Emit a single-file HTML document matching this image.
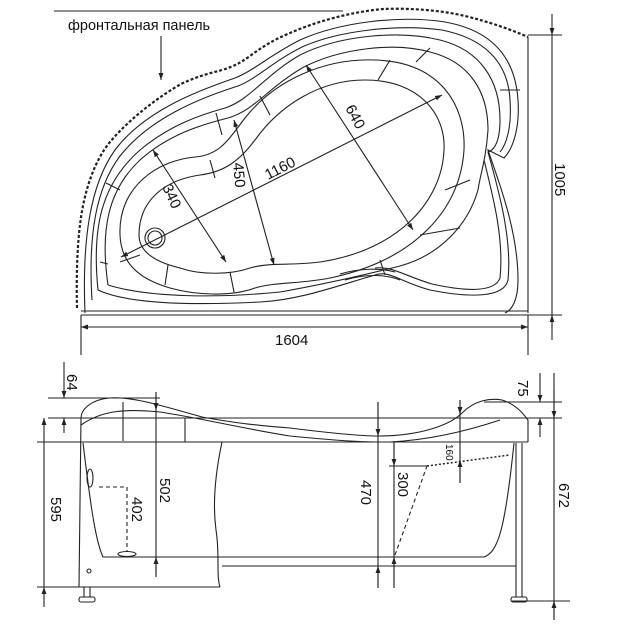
<!DOCTYPE html>
<html><head><meta charset="utf-8"><style>
html,body{margin:0;padding:0;background:#fff}
svg{display:block}
text{font-family:"Liberation Sans",sans-serif;fill:#111}
</style></head><body>
<svg width="627" height="625" viewBox="0 0 627 625" xmlns="http://www.w3.org/2000/svg">
<defs>
<marker id="a" viewBox="0 0 10 10" refX="10" refY="5" markerWidth="7" markerHeight="7" orient="auto-start-reverse" markerUnits="userSpaceOnUse"><path d="M0,1.5L10,5L0,8.5Z" fill="#222"/></marker>
</defs>
<g fill="none" stroke="#222" stroke-width="1.1">
<line x1="54" y1="11" x2="343" y2="11"/>
<path d="M77,308 C76,270 78,240 80,225 C84,190 95,160 110,142 C130,118 160,96 181,84 C200,75 215,72 222,70 C235,66 240,63 250,56 C262,47 275,39 290,33 C315,22 350,12 383,9 C410,8 440,10 465,16 C490,22 512,30 528,37" stroke-dasharray="3,2" stroke-width="2.2"/>
<line x1="528" y1="37" x2="528" y2="313"/>
<line x1="81" y1="311" x2="528" y2="311"/>
<line x1="81" y1="315" x2="528" y2="315"/>
<line x1="528" y1="35" x2="562" y2="35"/>
<line x1="528" y1="315" x2="562" y2="315"/>
<line x1="552" y1="14" x2="552" y2="35" marker-end="url(#a)"/>
<line x1="552" y1="340" x2="552" y2="315" marker-end="url(#a)"/>
<line x1="552" y1="35" x2="552" y2="315"/>
<line x1="81" y1="315" x2="81" y2="355"/>
<line x1="528" y1="315" x2="528" y2="355"/>
<line x1="81" y1="327" x2="528" y2="327" marker-start="url(#a)" marker-end="url(#a)"/>
<line x1="161" y1="36" x2="161" y2="80" marker-end="url(#a)"/>
<path d="M85,313 C82,240 90,185 115,150 C145,110 200,90 235,78 C255,70 270,55 300,40 C340,22 400,15 445,22 C490,30 515,55 518,100 C520,130 512,150 504,158 L488,150 C498,180 518,230 518,280 C518,300 512,310 505,313"/>
<path d="M92,300 C88,235 96,188 120,156 C150,118 200,98 238,86 C258,78 272,62 302,47 C340,30 400,24 442,30 C482,38 508,60 510,100 C512,128 506,145 500,152"/>
<path d="M98,290 C92,230 100,185 140,150 C170,125 200,115 225,108 C250,100 265,75 300,55 C340,35 400,30 440,40 C480,50 500,80 500,120 C500,140 495,150 488,152 C500,195 512,240 508,280 C504,298 470,298 430,290 C400,282 390,270 375,275 C340,285 300,300 260,302 C200,305 130,305 98,290 Z"/>
<path d="M484,160 C494,200 504,240 500,278 C495,292 468,292 432,284 C405,276 392,266 375,268"/>
<path d="M340,274 C360,268 380,268 395,272 M345,280 C365,274 385,274 400,280"/>
<path d="M108,285 C100,230 108,190 140,160 C168,135 200,125 228,118 C255,110 268,88 302,68 C340,48 395,42 430,52 C470,62 488,92 488,130 C486,160 480,175 478,190 C468,225 440,255 400,266 C360,276 320,285 280,292 C220,298 150,298 108,285"/>
<path d="M120,235 C118,185 160,160 195,157 C220,155 228,140 245,118 C275,80 325,58 375,60 C440,62 466,105 464,150 C460,210 415,260 330,278 C300,284 275,282 255,288 C230,297 195,295 170,288 C135,278 121,260 120,235 Z"/>
<path d="M139,235 C139,200 165,180 200,175 C225,172 240,160 255,140 C280,105 320,80 365,80 C420,80 446,115 444,150 C442,200 400,250 320,262 C290,266 270,262 250,268 C230,275 200,275 180,268 C155,262 139,252 139,235 Z"/>
<path d="M106,183 L120,190 M216,113 L222,135 M260,96 L270,115 M390,60 L378,80 M430,48 L416,62 M470,180 L445,190 M140,255 L120,262 M168,265 L165,285 M230,272 L234,292 M420,235 L460,228 M210,160 L215,178 M380,260 L385,275 M100,262 L108,264 M500,90 L520,90"/>
<circle cx="155" cy="238" r="10"/><circle cx="155" cy="238" r="7"/>
<line x1="121" y1="257" x2="442" y2="95" marker-start="url(#a)" marker-end="url(#a)"/>
<line x1="306" y1="65" x2="413" y2="230" marker-start="url(#a)" marker-end="url(#a)"/>
<line x1="234" y1="120" x2="274" y2="265" marker-start="url(#a)" marker-end="url(#a)"/>
<line x1="153" y1="150" x2="226" y2="262" marker-start="url(#a)" marker-end="url(#a)"/>

<line x1="48" y1="398" x2="160" y2="398"/>
<line x1="48" y1="418" x2="562" y2="418"/>
<line x1="37" y1="442" x2="528" y2="442"/>
<line x1="484" y1="402" x2="562" y2="402"/>
<line x1="64" y1="362" x2="64" y2="398" marker-end="url(#a)"/>
<line x1="64" y1="433" x2="64" y2="418" marker-end="url(#a)"/>
<line x1="44" y1="418" x2="44" y2="587" marker-start="url(#a)"/>
<line x1="44" y1="607" x2="44" y2="587" marker-end="url(#a)"/>
<line x1="37" y1="587" x2="80" y2="587"/>
<path d="M81,418 L79,587 L220,587"/>
<path d="M222,442 C216,470 212,500 216,530 C220,555 216,575 220,587"/>
<path d="M81,418 C81,410 90,400 109,398 C130,396 160,405 202,417 M202,417 C230,422 250,425 290,428 C330,433 360,436 378,436 C420,436 450,425 462,413 C475,400 490,398 502,400 C515,404 522,412 528,420 L528,442"/>
<path d="M81,425 C100,412 120,408 160,412 C200,418 240,428 290,436 C330,440 360,442 378,442 M390,442 C430,440 470,430 500,420"/>
<line x1="185" y1="418" x2="185" y2="442"/>
<line x1="123" y1="402" x2="123" y2="441"/>
<path d="M83,443 C90,500 95,540 103,557 L484,557 C498,552 505,530 514,443"/>
<line x1="222" y1="566" x2="516" y2="566"/>
<line x1="516" y1="443" x2="516" y2="597"/>
<line x1="522" y1="443" x2="522" y2="597"/>
<rect x="511" y="597" width="16" height="5" rx="2"/>
<rect x="79" y="597" width="16" height="5" rx="2"/>
<line x1="84" y1="587" x2="84" y2="597"/><line x1="90" y1="587" x2="90" y2="597"/>
<circle cx="89" cy="571" r="2"/>
<ellipse cx="90" cy="478" rx="3" ry="9"/>
<ellipse cx="127" cy="554" rx="9" ry="2.5"/>
<path d="M99,487 L127,487 L127,552" stroke-dasharray="4,3"/>
<line x1="156" y1="392" x2="156" y2="577"/>
<line x1="156" y1="392" x2="156" y2="410" marker-end="url(#a)"/>
<line x1="156" y1="575" x2="156" y2="557" marker-end="url(#a)"/>
<line x1="378" y1="402" x2="378" y2="588"/>
<line x1="378" y1="402" x2="378" y2="436" marker-end="url(#a)"/>
<line x1="378" y1="588" x2="378" y2="566" marker-end="url(#a)"/>
<line x1="394" y1="442" x2="394" y2="588"/>
<line x1="394" y1="442" x2="394" y2="466" marker-end="url(#a)"/>
<line x1="394" y1="588" x2="394" y2="557" marker-end="url(#a)"/>
<line x1="389" y1="466" x2="427" y2="466"/>
<path d="M395,555 L427,466" stroke-dasharray="4,3"/>
<path d="M427,466 L510,455" stroke-dasharray="2,2" stroke-width="1.5"/>
<line x1="460" y1="400" x2="460" y2="483"/>
<line x1="460" y1="400" x2="460" y2="414" marker-end="url(#a)"/>
<line x1="460" y1="483" x2="460" y2="460" marker-end="url(#a)"/>
<line x1="540" y1="373" x2="540" y2="402" marker-end="url(#a)"/>
<line x1="540" y1="437" x2="540" y2="418" marker-end="url(#a)"/>
<line x1="554" y1="373" x2="554" y2="620"/>
<line x1="554" y1="390" x2="554" y2="418" marker-end="url(#a)"/>
<line x1="554" y1="620" x2="554" y2="601" marker-end="url(#a)"/>
<line x1="512" y1="601" x2="570" y2="601"/>
</g>
<text x="68" y="30" font-size="14.5">фронтальная панель</text>
<text x="275" y="345" font-size="15">1604</text>
<text font-size="15" transform="translate(555,163) rotate(90)">1005</text>
<text font-size="15" transform="translate(268,180) rotate(-27)">1160</text>
<text font-size="15" transform="translate(345,108) rotate(62)">640</text>
<text font-size="15" transform="translate(233,163) rotate(85)">450</text>
<text font-size="15" transform="translate(162,187) rotate(65)">340</text>
<text font-size="15" transform="translate(67,374) rotate(90)">64</text>
<text font-size="15" transform="translate(51,497) rotate(90)">595</text>
<text font-size="15" transform="translate(160,478) rotate(90)">502</text>
<text font-size="15" transform="translate(132,497) rotate(90)">402</text>
<text font-size="15" transform="translate(361,480) rotate(90)">470</text>
<text font-size="15" transform="translate(398,472) rotate(90)">300</text>
<text font-size="10" transform="translate(446,444) rotate(90)">160</text>
<text font-size="15" transform="translate(518,380) rotate(90)">75</text>
<text font-size="15" transform="translate(559,483) rotate(90)">672</text>
</svg>
</body></html>
